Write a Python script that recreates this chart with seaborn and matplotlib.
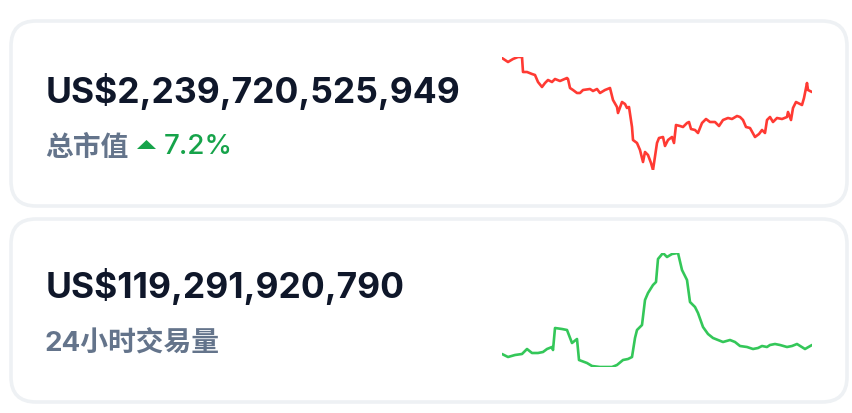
import matplotlib
matplotlib.use('Agg')
import matplotlib.pyplot as plt
from matplotlib.patches import FancyBboxPatch
import seaborn as sns
import pandas as pd

# values (relative units, sparklines have no axes)
cap_t = [2, 5, 8, 13, 18, 22, 23, 27, 32, 35, 38, 42, 45, 48, 52, 55, 60, 67, 68, 70,
         73, 77, 80, 83, 90, 93, 97, 100, 105, 110, 113, 117, 118, 122, 125, 127, 129,
         132, 133, 137, 140, 143, 145, 148, 151, 153, 157, 159, 163, 165, 168, 172, 174,
         176, 180, 183, 187, 189, 191, 195, 198, 202, 206, 210, 215, 219, 223, 228, 232,
         237, 240, 243, 246, 250, 255, 259, 262, 265, 267, 270, 273, 277, 282, 287, 288,
         291, 293, 296, 302, 304, 307, 308, 312]
cap_v = [113, 111, 109, 112, 114, 114, 99, 99, 97, 96, 89, 84, 88, 91, 89, 92, 90, 93, 92, 83,
         81, 78, 78, 81, 82, 80, 82, 78, 81, 83, 71, 64, 58, 69, 67, 63, 64,
         44, 31, 28, 21, 9, 19, 16, 8, 1, 28, 33, 34, 25, 31, 34, 28,
         46, 45, 44, 48, 49, 42, 41, 38, 48, 52, 49, 49, 45, 51, 53, 52,
         55, 54, 51, 44, 43, 34, 37, 41, 38, 51, 54, 49, 53, 52, 54, 59,
         51, 63, 69, 66, 73, 88, 81, 79]

vol_t = [2, 8, 15, 22, 27, 32, 38, 43, 47, 52, 53, 55, 62, 67, 72, 77, 79, 87, 92, 100,
         112, 117, 123, 128, 132, 135, 137, 142, 145, 148, 153, 156, 158, 163, 167, 172,
         178, 182, 187, 190, 195, 198, 203, 208, 213, 218, 223, 230, 235, 240, 247, 253,
         258, 262, 267, 270, 275, 280, 287, 292, 297, 305, 312]
vol_v = [14, 11, 13, 14, 19, 15, 15, 16, 19, 21, 18, 40, 39, 38, 25, 29, 8, 5, 2, 1,
         1, 3, 8, 9, 11, 30, 38, 43, 68, 75, 83, 86, 109, 115, 111, 114,
         115, 98, 88, 66, 61, 55, 41, 34, 30, 28, 26, 28, 26, 22, 21, 19,
         20, 22, 21, 23, 24, 23, 21, 22, 24, 19, 23]

big_values = ['US$2,239,720,525,949', 'US$119,291,920,790']
labels = ['总市值', '24小时交易量']
change = '7.2%'

W, H = 853, 413
sns.set_theme(style='white')
plt.rcParams['font.family'] = ['Inter', 'Noto Sans CJK SC', 'DejaVu Sans']

fig = plt.figure(figsize=(W / 100, H / 100), dpi=100)
fig.patch.set_facecolor('white')

# background axes in pixel coordinates
bg = fig.add_axes([0, 0, 1, 1])
bg.set_xlim(0, W)
bg.set_ylim(H, 0)
bg.axis('off')

border = '#eef1f4'
for (y0, y1) in [(21, 206), (219, 402)]:
    r = 25
    box = FancyBboxPatch((11 + r, y0 + r), 836 - 2 * r, (y1 - y0) - 2 * r,
                         boxstyle='round,pad=%d' % r, fc='white', ec=border, lw=2.6)
    bg.add_patch(box)

navy = '#0f172a'
grey = '#64748b'
green_txt = '#16a34a'

bg.text(46, 103, big_values[0], fontsize=25.5, fontweight='bold', color=navy, va='baseline')
bg.text(46, 298, big_values[1], fontsize=25.5, fontweight='bold', color=navy, va='baseline')

bg.text(45, 156, labels[0], fontsize=20, fontweight='bold', color=grey, va='baseline')
bg.fill([137, 146.5, 156], [149, 140, 149], color=green_txt, lw=0)
bg.text(164, 154, change, fontsize=20, fontweight='medium', color=green_txt, va='baseline')
bg.text(45, 352, labels[1], fontsize=20, fontweight='bold', color=grey, va='baseline')


def spark(px, t, v, color):
    x0, y0, x1, y1 = px
    ax = fig.add_axes([x0 / W, 1 - y1 / H, (x1 - x0) / W, (y1 - y0) / H])
    df = pd.DataFrame({'t': t, 'v': v})
    sns.lineplot(data=df, x='t', y='v', color=color, lw=1.9, ax=ax)
    ax.set_xlim(min(t), max(t))
    ax.set_ylim(min(v), max(v))
    ax.axis('off')
    ax.patch.set_alpha(0)


spark((502, 57, 812, 170), cap_t, cap_v, '#ff3a33')
spark((502, 253, 812, 367), vol_t, vol_v, '#34c759')

fig.savefig('out.png', dpi=100)
